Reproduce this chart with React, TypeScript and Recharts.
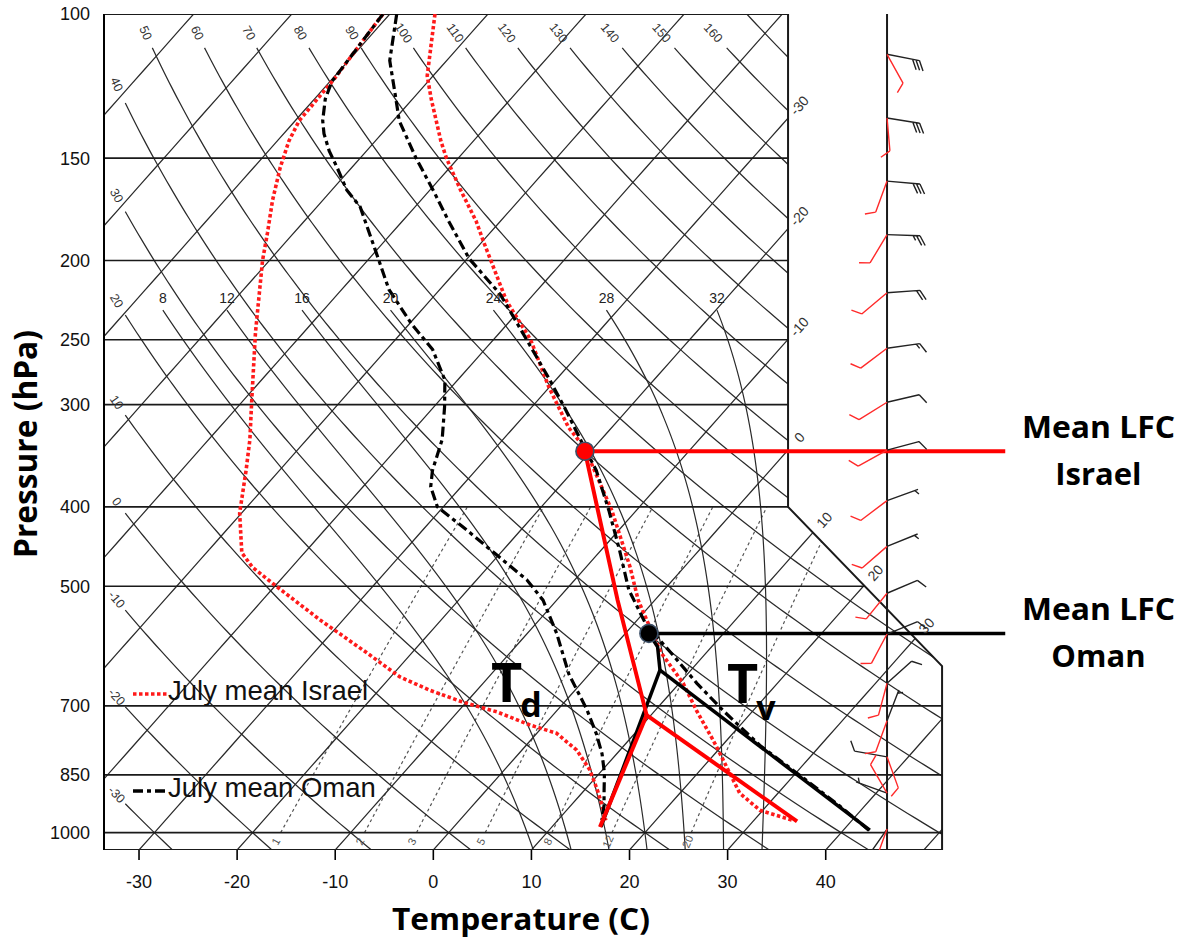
import React from 'react';
import { ComposedChart, Line, Scatter, XAxis, YAxis, Legend } from 'recharts';

const WIDTH = 1189;
const HEIGHT = 939;
const FONT = '"Liberation Sans", Arial, Helvetica, sans-serif';
const BOLD_FONT = '"Open Sans", "Liberation Sans", Arial, sans-serif';

// skew-T geometry: the x axis reads true temperature at 1050 hPa and
// isotherms lean right by SKEW degrees per decade of pressure
const SKEW = 74;
const P_BASE = 1050;
const P_TOP = 100;
const X_LEFT = -33.57;
const X_RIGHT = X_LEFT + 1075 / 9.81;
const X_NOTCH = 36.16; // right edge of the diagram above 400 hPa
const X_EDGE = 51.86; // right edge below the cut corner
const P_CUT_TOP = 400;
const P_CUT_BOT = 626;
const X_WIND = 46.25;
const X_LFC_END = 58.3;
const X_NOTE = 67.8;
// pixel scale, only used to turn the small grid labels along their lines
const PX_DEG = 9.81;
const PX_DECADE = 818.6;

const pressureTicks = [100, 150, 200, 250, 300, 400, 500, 700, 850, 1000];
const tempTicks = [-30, -20, -10, 0, 10, 20, 30, 40];
const isotherms = [-100, -90, -80, -70, -60, -50, -40, -30, -20, -10, 0, 10, 20, 30, 40, 50];
const labelledIsotherms = [-30, -20, -10, 0, 10, 20, 30];
const dryAdiabats = [-30, -20, -10, 0, 10, 20, 30, 40, 50, 60, 70, 80, 90, 100, 110, 120, 130, 140, 150, 160, 170];
const moistAdiabats = [8, 12, 16, 20, 24, 28, 32];
const mixingRatios = [1, 2, 3, 5, 8, 12, 20];

// July mean soundings, temperature and dew point in deg C
const israelP = [100, 119, 127, 143, 150, 164, 179, 190, 224, 250, 286, 320, 339, 404, 474, 520, 602, 657, 709, 771, 815, 895, 939, 966];
const israelT = [-75.4, -70.6, -68.1, -63.3, -61.2, -56.9, -52.5, -49.8, -42.2, -36.2, -30.0, -24.4, -20.9, -12.5, -5.5, -1.7, 5.3, 10.4, 14.2, 18.6, 21.4, 26.1, 29.7, 34.0];
const israelTdP = [100, 120, 135, 143, 154, 169, 185, 200, 245, 296, 331, 361, 407, 455, 474, 501, 550, 603, 645, 670, 693, 712, 739, 756, 793, 838, 887, 931, 966];
const israelTd = [-80.7, -79.8, -79.6, -78.8, -77.3, -75.1, -72.7, -70.7, -64.9, -59.2, -55.8, -53.4, -50.2, -46.4, -44.0, -39.7, -32.3, -24.6, -19.1, -14.8, -10.3, -6.0, -1.4, 2.0, 5.6, 8.7, 11.3, 13.4, 14.9];
const omanP = [100, 114, 127, 135, 150, 164, 179, 199, 220, 250, 280, 305, 331, 361, 404, 452, 505, 558, 602, 657, 709, 782, 851, 926, 993];
const omanT = [-79.3, -75.8, -71.7, -69.4, -64.3, -59.7, -55.3, -49.8, -43.4, -36.6, -30.6, -26.2, -22.1, -17.7, -12.8, -8.1, -3.6, 1.4, 6.3, 11.8, 16.9, 23.8, 30.6, 37.3, 42.6];
const omanTdP = [100, 121, 127, 135, 140, 147, 154, 164, 172, 194, 217, 239, 257, 280, 302, 331, 361, 378, 400, 427, 461, 491, 520, 571, 640, 708, 757, 801, 846, 893, 927, 966];
const omanTd = [-80.7, -79.8, -78.9, -77.2, -75.9, -73.8, -71.5, -68.5, -65.6, -60.2, -55.2, -49.8, -45.3, -41.3, -38.9, -36.2, -34.4, -33.1, -30.6, -25.5, -19.7, -14.9, -11.4, -7.0, -2.1, 3.0, 6.1, 8.5, 10.5, 12.2, 13.4, 14.5];

// lifted parcels: dew point arm, dry arm, moist arm ending at the LFC
const israelDewArmP = [984, 718.5];
const israelDewArmT = [14.9, 9.55];
const israelDryArmP = [969, 718.5];
const israelDryArmT = [34.5, 9.55];
const israelMoistArmP = [718.5, 520, 342];
const israelMoistArmT = [9.55, -3.8, -20.6];
const omanDewArmP = [984, 633];
const omanDewArmT = [15.0, 6.84];
const omanDryArmP = [993, 633];
const omanDryArmT = [42.7, 6.84];
const omanMoistArmP = [633, 593, 571];
const omanMoistArmT = [6.84, 4.5, 2.4];

// wind barbs (direction in degrees, speed in knots)
const windP = [112, 134, 160, 186, 219, 256, 298, 341, 393, 447, 510, 572, 657, 730, 808, 895, 990];
const omanDir = [101, 99, 95, 92, 86, 82, 77, 75, 70, 68, 67, 68, 48, 21, 280, 290, 215];
const omanSpd = [30, 30, 30, 25, 20, 15, 10, 10, 5, 5, 10, 10, 10, 5, 10, 5, 10];
const israelDir = [151, 175, 200, 211, 230, 233, 238, 241, 233, 229, 219, 208, 195, 200, 160, 330, 200];
const israelSpd = [10, 10, 10, 10, 10, 10, 10, 10, 10, 10, 10, 10, 10, 10, 10, 10, 10];

type Pt = { x: number; p: number };

const lg = Math.log10;
const skewX = (t: number, p: number) => t + SKEW * lg(P_BASE / p);
const toPts = (ps: number[], ts: number[]): Pt[] => ps.map((p, i) => ({ x: skewX(ts[i], p), p }));

const insideDiagram = (x: number, p: number) => {
  const e = 1e-9;
  if (x < X_LEFT - e || x > X_EDGE + e || p < P_TOP - e || p > P_BASE + e) return false;
  if (x > X_NOTCH) {
    const f = (x - X_NOTCH) / (X_EDGE - X_NOTCH);
    const edge = lg(P_CUT_TOP) + f * (lg(P_CUT_BOT) - lg(P_CUT_TOP));
    if (lg(p) < edge - e) return false;
  }
  return true;
};

const lerpPt = (a: Pt, b: Pt, f: number): Pt => ({
  x: a.x + (b.x - a.x) * f,
  p: 10 ** (lg(a.p) + (lg(b.p) - lg(a.p)) * f),
});

// cut a polyline into the pieces that fall inside a region
const clipLine = (pts: Pt[], test: (x: number, p: number) => boolean): Pt[][] => {
  const out: Pt[][] = [];
  let cur: Pt[] = [];
  pts.forEach((a, i) => {
    const inA = test(a.x, a.p);
    if (i > 0) {
      const b = pts[i - 1];
      const inB = test(b.x, b.p);
      if (inA !== inB) {
        let lo = 0;
        let hi = 1;
        for (let k = 0; k < 40; k++) {
          const m = (lo + hi) / 2;
          const q = lerpPt(b, a, m);
          if (test(q.x, q.p) === inB) lo = m;
          else hi = m;
        }
        const edge = lerpPt(b, a, inB ? lo : hi);
        if (inB) {
          cur.push(edge);
          out.push(cur);
          cur = [];
        } else {
          cur = [edge];
        }
      }
    }
    if (inA) cur.push(a);
  });
  if (cur.length > 1) out.push(cur);
  return out.filter((s) => s.length > 1);
};

const logSteps = (from: number, to: number, n: number) =>
  Array.from({ length: n + 1 }, (_, i) => 10 ** (lg(from) + ((lg(to) - lg(from)) * i) / n));

const angleOf = (a: Pt, b: Pt) => {
  const dx = (b.x - a.x) * PX_DEG;
  const dy = (lg(b.p) - lg(a.p)) * PX_DECADE;
  let ang = (Math.atan2(dy, dx) * 180) / Math.PI;
  if (ang > 90) ang -= 180;
  if (ang <= -90) ang += 180;
  return ang;
};

const dryT = (theta: number, p: number) => (theta + 273.15) * (p / 1000) ** 0.2857 - 273.15;
const satVapour = (tc: number) => 6.112 * Math.exp((17.67 * tc) / (tc + 243.5));
const mixRatio = (tc: number, p: number) => {
  const es = satVapour(tc);
  return (622 * es) / (p - es);
};
const dewFromMix = (w: number, p: number) => {
  const l = Math.log((w * p) / (622 + w) / 6.112);
  return (243.5 * l) / (17.67 - l);
};
// Stipanuk's saturated adiabat: equivalent potential temperature held fixed
const osOf = (tc: number, p: number) =>
  (tc + 273.15) * (1000 / p) ** 0.286 * Math.exp((2.6518986 * mixRatio(tc, p)) / (tc + 273.15));
const satTemp = (os: number, p: number) => {
  let lo = -140;
  let hi = 60;
  for (let k = 0; k < 50; k++) {
    const m = (lo + hi) / 2;
    if (osOf(m, p) > os) hi = m;
    else lo = m;
  }
  return (lo + hi) / 2;
};
const moistPath = (thetaW: number, pStop: number): Pt[] => {
  const os = osOf(thetaW, 1000);
  return logSteps(P_BASE, pStop, 90).map((p) => ({ x: skewX(satTemp(os, p), p), p }));
};

type Seg = { key: string; pts: Pt[] };
type Tag = { x: number; p: number; text: string; angle: number };

// isotherms
const isothermSegs: Seg[] = [];
const isothermTags: Tag[] = [];
isotherms.forEach((t) => {
  const raw = logSteps(P_BASE, P_TOP, 60).map((p) => ({ x: skewX(t, p), p }));
  const segs = clipLine(raw, insideDiagram);
  segs.forEach((s, i) => isothermSegs.push({ key: `iso${t}_${i}`, pts: s }));
  if (labelledIsotherms.includes(t) && segs.length) {
    const last = segs[segs.length - 1];
    const end = last[last.length - 1];
    const p = end.p * 10 ** -0.0155;
    isothermTags.push({ x: skewX(t, p), p, text: String(t), angle: angleOf(last[0], end) });
  }
});

// dry adiabats, stopped short of the frame where their labels go
const dryLineArea = (x: number, p: number) => insideDiagram(x, p) && p >= 110 && x >= -31.4;
const dryTagArea = (x: number, p: number) => insideDiagram(x, p) && p >= 105.5 && x >= -32.3;
const drySegs: Seg[] = [];
const dryTags: Tag[] = [];
dryAdiabats.forEach((th) => {
  const raw = logSteps(P_BASE, P_TOP, 160).map((p) => ({ x: skewX(dryT(th, p), p), p }));
  const labelled = th <= 160;
  clipLine(raw, labelled ? dryLineArea : insideDiagram).forEach((s, i) =>
    drySegs.push({ key: `dry${th}_${i}`, pts: s })
  );
  if (labelled) {
    const segs = clipLine(raw, dryTagArea);
    if (segs.length) {
      const last = segs[segs.length - 1];
      const end = last[last.length - 1];
      dryTags.push({ ...end, text: String(th), angle: angleOf(last[last.length - 2], end) });
    }
  }
});

// saturated adiabats from 1050 up to 230 hPa
const moistSegs: Seg[] = [];
const moistTags: Tag[] = [];
moistAdiabats.forEach((tw) => {
  const path = moistPath(tw, 230);
  clipLine(path, insideDiagram).forEach((s, i) => moistSegs.push({ key: `sat${tw}_${i}`, pts: s }));
  const top = path[path.length - 1];
  moistTags.push({ x: top.x, p: 222, text: String(tw), angle: 0 });
});

// mixing ratio lines, 1000 to 400 hPa
const mixSegs: Seg[] = [];
const mixTags: Tag[] = [];
mixingRatios.forEach((w) => {
  const raw = logSteps(1000, 400, 30).map((p) => ({ x: skewX(dewFromMix(w, p), p), p }));
  clipLine(raw, insideDiagram).forEach((s, i) => mixSegs.push({ key: `mix${w}_${i}`, pts: s }));
  const p = 1025;
  mixTags.push({ x: skewX(dewFromMix(w, p), p), p, text: String(w), angle: angleOf(raw[0], raw[3]) });
});

// isobars
const isobarSegs: Seg[] = [];
pressureTicks.concat([P_BASE]).forEach((p) => {
  const raw = Array.from({ length: 41 }, (_, i) => ({ x: X_LEFT + ((X_EDGE - X_LEFT) * i) / 40, p }));
  clipLine(raw, insideDiagram).forEach((s, i) => isobarSegs.push({ key: `bar${p}_${i}`, pts: s }));
});

const rightFrame: Pt[] = [
  { x: X_NOTCH, p: P_TOP },
  { x: X_NOTCH, p: P_CUT_TOP },
  { x: X_EDGE, p: P_CUT_BOT },
  { x: X_EDGE, p: P_BASE },
];

const israelLfc = { p: israelMoistArmP[israelMoistArmP.length - 1], t: israelMoistArmT[israelMoistArmT.length - 1] };
const omanLfc = { p: omanMoistArmP[omanMoistArmP.length - 1], t: omanMoistArmT[omanMoistArmT.length - 1] };

const israelWind = windP.map((p, i) => ({ x: X_WIND, p, dir: israelDir[i], spd: israelSpd[i] }));
const omanWind = windP.map((p, i) => ({ x: X_WIND, p, dir: omanDir[i], spd: omanSpd[i] }));

const SHAFT = 33;
const FEATHER = 11;
const GAP = 3.5;
const barbShape = (color: string) => (props: any) => {
  const { cx, cy, payload } = props;
  if (!Number.isFinite(cx) || !Number.isFinite(cy)) return <g />;
  const rad = (payload.dir * Math.PI) / 180;
  const ux = Math.sin(rad);
  const uy = -Math.cos(rad);
  const tx = cx + ux * SHAFT;
  const ty = cy + uy * SHAFT;
  const fa = Math.atan2(uy, ux) + Math.PI / 3;
  const fx = Math.cos(fa);
  const fy = Math.sin(fa);
  let d = `M${cx},${cy}L${tx},${ty}`;
  let s = Math.round(payload.spd / 5) * 5;
  let k = 0;
  while (s >= 10) {
    d += `M${tx - ux * GAP * k},${ty - uy * GAP * k}l${fx * FEATHER},${fy * FEATHER}`;
    s -= 10;
    k += 1;
  }
  if (s >= 5) {
    const kk = k === 0 ? 1 : k;
    d += `M${tx - ux * GAP * kk},${ty - uy * GAP * kk}l${(fx * FEATHER) / 2},${(fy * FEATHER) / 2}`;
  }
  return <path d={d} stroke={color} strokeWidth={1.4} fill="none" />;
};

const tagShape = (size: number, fill: string) => (props: any) => {
  const { cx, cy, payload } = props;
  if (!Number.isFinite(cx) || !Number.isFinite(cy)) return <g />;
  return (
    <text
      x={cx}
      y={cy}
      transform={`rotate(${payload.angle} ${cx} ${cy})`}
      textAnchor="middle"
      dominantBaseline="central"
      fontSize={size}
      fill={fill}
      fontFamily={FONT}
    >
      {payload.text}
    </text>
  );
};

const dotShape = (fill: string) => (props: any) => (
  <circle cx={props.cx} cy={props.cy} r={9} fill={fill} stroke="#3d5068" strokeWidth={1.6} />
);

const lfcNote = (name: string) => (props: any) => {
  const { cx, cy } = props;
  return (
    <text x={cx} y={cy} textAnchor="middle" fontFamily={BOLD_FONT} fontWeight={700} fontSize={31} fill="#000">
      <tspan x={cx} dy={-13} textLength={153} lengthAdjust="spacingAndGlyphs">Mean LFC</tspan>
      <tspan x={cx} dy={47}>{name}</tspan>
    </text>
  );
};

const subNote = (main: string, sub: string, subDx: number, subDy: number) => (props: any) => (
  <text x={props.cx} y={props.cy} fontFamily={BOLD_FONT} fontWeight={700} fill="#000">
    <tspan fontSize={54}>{main}</tspan>
    <tspan fontSize={34} dx={subDx} dy={subDy}>{sub}</tspan>
  </text>
);

const line = (key: string, pts: Pt[], stroke: string, width: number, dash?: string) => (
  <Line
    key={key}
    data={pts}
    dataKey="p"
    type="linear"
    stroke={stroke}
    strokeWidth={width}
    strokeDasharray={dash}
    dot={false}
    activeDot={false}
    isAnimationActive={false}
    legendType="none"
  />
);

const ISRAEL_RED = '#ff1a1a';
const ISRAEL_DASH = '3.5 2.5';
const OMAN_DASH = '10 4 4 4';

const legendRows = [
  { name: 'July mean Israel', color: ISRAEL_RED, dash: ISRAEL_DASH, top: 676 },
  { name: 'July mean Oman', color: '#000', dash: OMAN_DASH, top: 773 },
];

const LegendBox = () => (
  <div style={{ position: 'relative', width: 0, height: 0 }}>
    {legendRows.map((r) => (
      <div
        key={r.name}
        style={{
          position: 'absolute',
          left: 133,
          top: r.top,
          display: 'flex',
          alignItems: 'center',
          whiteSpace: 'nowrap',
          fontFamily: FONT,
          fontSize: 27.5,
          lineHeight: '30px',
          color: '#111',
        }}
      >
        <svg width={35} height={10} style={{ marginTop: 6 }}>
          <line x1={0} y1={5} x2={35} y2={5} stroke={r.color} strokeWidth={3.6} strokeDasharray={r.dash} />
        </svg>
        <span>{r.name}</span>
      </div>
    ))}
  </div>
);

const GRID = '#2a2a2a';

export default function App() {
  return (
    <div style={{ position: 'absolute', left: 0, top: 0, width: WIDTH, height: HEIGHT, background: '#fff' }}>
      <ComposedChart width={WIDTH} height={HEIGHT} margin={{ top: 14, right: 10, bottom: 0, left: 0 }}>
        <XAxis
          type="number"
          dataKey="x"
          domain={[X_LEFT, X_RIGHT]}
          allowDataOverflow
          ticks={tempTicks}
          interval={0}
          height={89}
          axisLine={false}
          tickLine={{ stroke: '#000', strokeWidth: 1.6 }}
          tickSize={10}
          tickMargin={15}
          tick={{ fontSize: 18, fill: '#111', fontFamily: FONT }}
          label={() => (
            <text x={521} y={930} textAnchor="middle" fontFamily={BOLD_FONT} fontWeight={700} fontSize={31} fill="#000" textLength={258} lengthAdjust="spacingAndGlyphs">
              Temperature (C)
            </text>
          )}
        />
        <YAxis
          type="number"
          dataKey="p"
          scale="log"
          domain={[P_TOP, P_BASE]}
          reversed
          allowDataOverflow
          ticks={pressureTicks}
          interval={0}
          width={104}
          axisLine={{ stroke: '#000', strokeWidth: 2 }}
          tickLine={false}
          tickSize={8}
          tickMargin={6}
          tick={{ fontSize: 18, fill: '#111', fontFamily: FONT }}
          label={() => (
            <text x={37} y={444} transform="rotate(-90 37 444)" textAnchor="middle" fontFamily={BOLD_FONT} fontWeight={700} fontSize={32} fill="#000" textLength={228} lengthAdjust="spacingAndGlyphs">
              Pressure (hPa)
            </text>
          )}
        />
        <Legend
          content={LegendBox}
          layout="vertical"
          align="center"
          verticalAlign="middle"
          wrapperStyle={{ left: 0, top: 0, width: 0, height: 0 }}
        />

        {mixSegs.map((s) => line(s.key, s.pts, '#555', 1.2, '3 3'))}
        {isothermSegs.map((s) => line(s.key, s.pts, GRID, 1.25))}
        {drySegs.map((s) => line(s.key, s.pts, GRID, 1.25))}
        {moistSegs.map((s) => line(s.key, s.pts, GRID, 1.2))}
        {isobarSegs.map((s) => line(s.key, s.pts, '#1a1a1a', s.pts[0].p === P_TOP || s.pts[0].p === P_BASE ? 2 : 1.6))}
        {line('frame', rightFrame, '#1a1a1a', 2)}
        {line('windStaff', [{ x: X_WIND, p: P_TOP }, { x: X_WIND, p: P_BASE }], '#1a1a1a', 2)}

        <Scatter data={dryTags} shape={tagShape(12.5, '#333')} isAnimationActive={false} legendType="none" />
        <Scatter data={isothermTags} shape={tagShape(14, '#333')} isAnimationActive={false} legendType="none" />
        <Scatter data={moistTags} shape={tagShape(14, '#222')} isAnimationActive={false} legendType="none" />
        <Scatter data={mixTags} shape={tagShape(11, '#555')} isAnimationActive={false} legendType="none" />

        {line('israelTd', toPts(israelTdP, israelTd), ISRAEL_RED, 3.6, ISRAEL_DASH)}
        {line('israelT', toPts(israelP, israelT), ISRAEL_RED, 3.6, ISRAEL_DASH)}
        {line('omanTd', toPts(omanTdP, omanTd), '#000', 3.2, OMAN_DASH)}
        {line('omanT', toPts(omanP, omanT), '#000', 3.2, OMAN_DASH)}

        {line('omanDew', toPts(omanDewArmP, omanDewArmT), '#000', 3.5)}
        {line('omanDry', toPts(omanDryArmP, omanDryArmT), '#000', 3.5)}
        {line('omanMoist', toPts(omanMoistArmP, omanMoistArmT), '#000', 3.5)}
        {line('israelDew', toPts(israelDewArmP, israelDewArmT), '#ff0000', 4)}
        {line('israelDry', toPts(israelDryArmP, israelDryArmT), '#ff0000', 4)}
        {line('israelMoist', toPts(israelMoistArmP, israelMoistArmT), '#ff0000', 4)}

        {line('israelLfcLine', [{ x: skewX(israelLfc.t, israelLfc.p), p: israelLfc.p }, { x: X_LFC_END, p: israelLfc.p }], '#ff0000', 4)}
        {line('omanLfcLine', [{ x: skewX(omanLfc.t, omanLfc.p), p: omanLfc.p }, { x: X_LFC_END, p: omanLfc.p }], '#000', 3.5)}

        <Scatter data={omanWind} shape={barbShape('#222')} isAnimationActive={false} legendType="none" />
        <Scatter data={israelWind} shape={barbShape('#ff2a2a')} isAnimationActive={false} legendType="none" />

        <Scatter data={[{ x: skewX(israelLfc.t, israelLfc.p), p: israelLfc.p }]} shape={dotShape('#ff0000')} isAnimationActive={false} legendType="none" />
        <Scatter data={[{ x: skewX(omanLfc.t, omanLfc.p), p: omanLfc.p }]} shape={dotShape('#000')} isAnimationActive={false} legendType="none" />

        <Scatter data={[{ x: X_NOTE, p: israelLfc.p }]} shape={lfcNote('Israel')} isAnimationActive={false} legendType="none" />
        <Scatter data={[{ x: X_NOTE, p: omanLfc.p }]} shape={lfcNote('Oman')} isAnimationActive={false} legendType="none" />
        <Scatter data={[{ x: 5.88, p: 692.6 }]} shape={subNote('T', 'd', -2, 15)} isAnimationActive={false} legendType="none" />
        <Scatter data={[{ x: 29.93, p: 694.5 }]} shape={subNote('T', 'v', -2, 17)} isAnimationActive={false} legendType="none" />
      </ComposedChart>
    </div>
  );
}
